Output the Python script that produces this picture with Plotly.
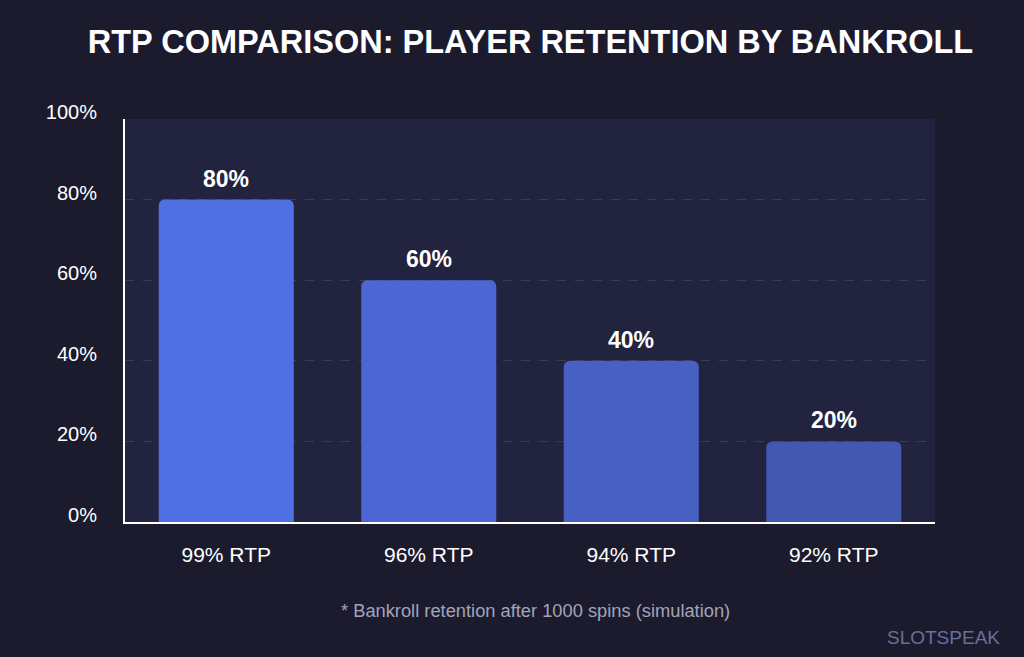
import plotly.graph_objects as go

categories = ["99% RTP", "96% RTP", "94% RTP", "92% RTP"]
retention = [80, 60, 40, 20]
bar_colors = ["#4F6FE2", "#4C67D3", "#4960C3", "#4358B0"]
y_tickvals = [0, 20, 40, 60, 80, 100]
y_ticktext = ["0%", "20%", "40%", "60%", "80%", "100%"]

FONT = "Liberation Sans, Arial, sans-serif"

fig = go.Figure()
fig.add_trace(go.Bar(
    x=categories,
    y=retention,
    marker=dict(color=bar_colors, line=dict(width=0), cornerradius=6),
    hoverinfo="skip",
))

value_labels = [
    dict(x=c, y=v, xref="x", yref="y", text=f"<b>{v}%</b>",
         showarrow=False, xanchor="center", yanchor="middle", yshift=21,
         font=dict(family=FONT, size=23, color="#FFFFFF"))
    for c, v in zip(categories, retention)
]

fig.update_layout(
    width=1024, height=657,
    paper_bgcolor="#1B1B2D",
    plot_bgcolor="#22233F",
    margin=dict(l=125, r=89, t=119, b=135),
    bargap=0.333,
    showlegend=False,
    title=dict(
        text="<b>RTP COMPARISON: PLAYER RETENTION BY BANKROLL</b>",
        x=0.518, xanchor="center", y=0.937, yanchor="middle",
        font=dict(family=FONT, size=32.5, color="#FFFFFF"),
    ),
    xaxis=dict(
        showgrid=False,
        showline=True, linecolor="#FFFFFF", linewidth=2,
        tickfont=dict(family=FONT, size=21, color="#FFFFFF"),
        ticks="", ticklabelstandoff=13,
        fixedrange=True,
    ),
    yaxis=dict(
        range=[0, 100],
        tickvals=y_tickvals, ticktext=y_ticktext,
        showgrid=True, gridcolor="#3A3B58", griddash="dash", gridwidth=1,
        showline=True, linecolor="#FFFFFF", linewidth=2,
        zeroline=False,
        tickfont=dict(family=FONT, size=20, color="#FFFFFF"),
        ticks="", ticklabelstandoff=22, ticklabelshift=-7,
        fixedrange=True,
    ),
    annotations=value_labels + [
        dict(text="* Bankroll retention after 1000 spins (simulation)",
             xref="paper", yref="paper", x=0.507, y=-0.22,
             xanchor="center", yanchor="middle", showarrow=False,
             font=dict(family=FONT, size=18.3, color="#A3A3BA")),
        dict(text="SLOTSPEAK",
             xref="paper", yref="paper", x=1.083, y=-0.287,
             xanchor="right", yanchor="middle", showarrow=False,
             font=dict(family=FONT, size=19, color="#6B6E98")),
    ],
)

fig.write_html("out.html")
